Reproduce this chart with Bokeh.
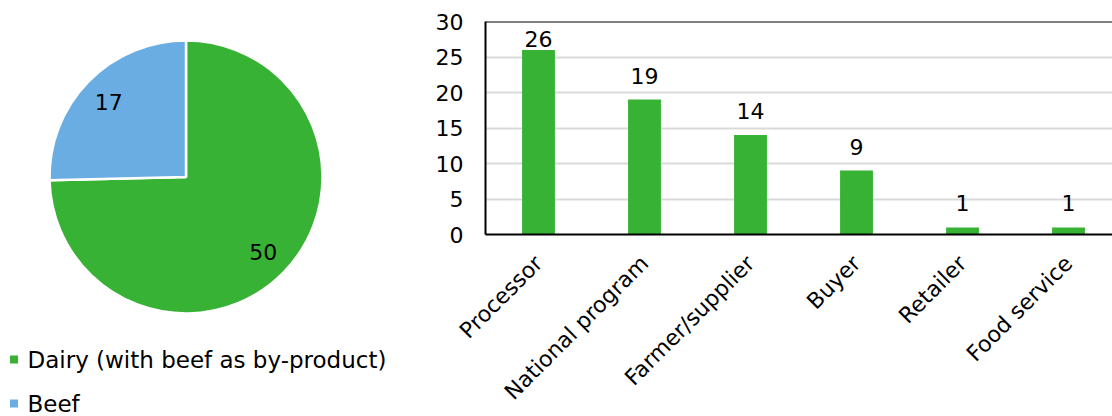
import math

from bokeh.core.properties import value
from bokeh.embed import file_html
from bokeh.layouts import row
from bokeh.models import ColumnDataSource, FixedTicker, Range1d, Span
from bokeh.plotting import figure
from bokeh.resources import INLINE

# Herd types (pie)
herd_labels = ["Dairy (with beef as by-product)", "Beef"]
herd_counts = [50, 17]
herd_colors = ["#37B234", "#6AADE3"]

# Initiating actor (bars)
actors = ["Processor", "National program", "Farmer/supplier", "Buyer", "Retailer", "Food service"]
actor_counts = [26, 19, 14, 9, 1, 1]
y_ticks = [0, 5, 10, 15, 20, 25, 30]

FONT = "DejaVu Sans"
FS = "22px"
FS_TEXT = "23px"
GREEN = "#37B234"

# ---------- pie ----------
W_PIE, H = 420, 416
pie = figure(width=W_PIE, height=H, x_range=Range1d(0, W_PIE), y_range=Range1d(0, H),
             x_axis_type=None, y_axis_type=None, toolbar_location=None,
             output_backend="svg", min_border=0, outline_line_color=None,
             frame_align=False)
pie.grid.visible = False

cx, cy, r = 185.5, H - 176.5, 136.5
total = sum(herd_counts)
# slices run anticlockwise from 12 o'clock, last series first
start_map, end_map = {}, {}
a = math.pi / 2
for i in reversed(range(len(herd_counts))):
    sweep = 2 * math.pi * herd_counts[i] / total
    start_map[i], end_map[i] = a, a + sweep
    a += sweep
starts, ends, lx, ly = [], [], [], []
for i in range(len(herd_counts)):
    starts.append(start_map[i])
    ends.append(end_map[i])
    mid = (start_map[i] + end_map[i]) / 2
    lx.append(cx + 0.79 * r * math.cos(mid))
    ly.append(cy + 0.79 * r * math.sin(mid))

pie_src = ColumnDataSource(dict(label=herd_labels, count=herd_counts, color=herd_colors,
                                start=starts, end=ends, lx=lx, ly=ly,
                                txt=[str(v) for v in herd_counts]))
pie.wedge(x=cx, y=cy, radius=r, start_angle="start", end_angle="end",
          fill_color="color", line_color="white", line_width=2.5, source=pie_src)
pie.text(x="lx", y="ly", text="txt", source=pie_src, text_align="center",
         text_baseline="middle", text_font=value(FONT), text_font_size=FS,
         text_color="black")

# legend rows
leg_src = ColumnDataSource(dict(y=[H - 359, H - 403], color=herd_colors, label=herd_labels))
pie.rect(x=13.5, y="y", width=8, height=8, fill_color="color", line_color=None, source=leg_src)
pie.text(x=27, y="y", text="label", source=leg_src, text_align="left",
         text_baseline="middle", text_font=value(FONT), text_font_size=FS_TEXT,
         text_color="black")

# ---------- bars ----------
W_BAR = 1112 - W_PIE
Y_MAX = 30
idx = list(range(len(actors)))
bars = figure(width=W_BAR, height=H, x_range=Range1d(-0.5, 5.415), y_range=Range1d(0, Y_MAX),
              toolbar_location=None, output_backend="svg",
              min_border_left=65, min_border_right=0, min_border_top=21,
              min_border_bottom=182, outline_line_color=None, frame_align=False)

# value labels sit a little above each bar, kept inside the plot area near the top
label_gap, label_room = 2.25, 3.6
label_y = [min(v + label_gap, Y_MAX - label_room) for v in actor_counts]
bar_src = ColumnDataSource(dict(x=idx, count=actor_counts, ly=label_y,
                                txt=[str(v) for v in actor_counts]))
bars.vbar(x="x", top="count", width=0.31, fill_color=GREEN, line_color=None, source=bar_src)
bars.text(x="x", y="ly", text="txt", source=bar_src, text_align="center",
          text_baseline="bottom", text_font=value(FONT),
          text_font_size=FS, text_color="black")

bars.add_layout(Span(location=Y_MAX, dimension="width", line_color="black", line_width=2))

bars.xgrid.visible = False
bars.ygrid.grid_line_color = "#D9D9D9"
bars.ygrid.grid_line_width = 2
bars.ygrid.ticker = FixedTicker(ticks=y_ticks)

ya = bars.yaxis[0]
ya.ticker = FixedTicker(ticks=y_ticks)
ya.axis_line_color = "black"
ya.axis_line_width = 2
ya.major_tick_line_color = None
ya.minor_tick_line_color = None
ya.major_label_standoff = 16
ya.major_label_text_font = FONT
ya.major_label_text_font_size = FS
ya.major_label_text_color = "black"

xa = bars.xaxis[0]
xa.ticker = FixedTicker(ticks=idx)
xa.major_label_overrides = {i: name for i, name in zip(idx, actors)}
xa.major_label_orientation = math.pi / 4
xa.axis_line_color = "black"
xa.axis_line_width = 2
xa.major_tick_line_color = None
xa.minor_tick_line_color = None
xa.major_label_standoff = 19
xa.major_label_text_font = FONT
xa.major_label_text_font_size = FS
xa.major_label_text_color = "black"

p = row(pie, bars)
open("out.html", "w").write(file_html(p, INLINE))
